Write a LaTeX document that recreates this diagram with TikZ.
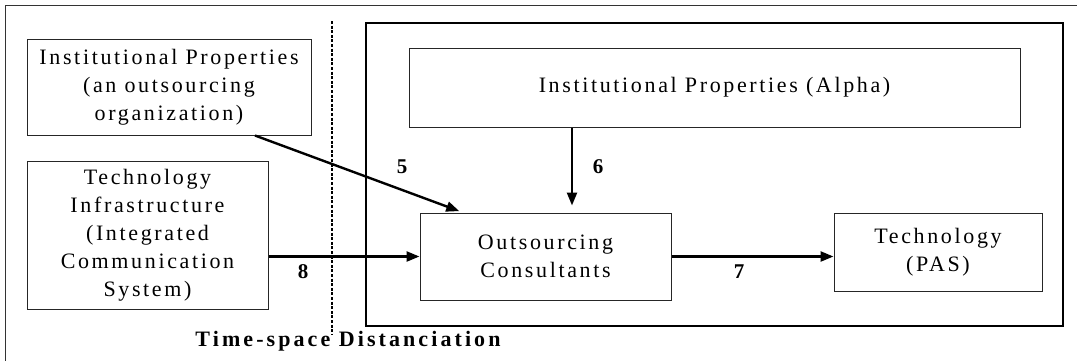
\documentclass[tikz,border=0pt]{standalone}
\usepackage{fontspec}
\setmainfont{Liberation Serif}
\newfontfamily\lsfont[LetterSpace=12]{Liberation Serif}
\newfontfamily\lsbold[LetterSpace=14]{Liberation Serif}
\usetikzlibrary{arrows.meta,calc}
\begin{document}
\begin{tikzpicture}[x=1pt,y=-1pt,
  boxnode/.style={draw=black!85,line width=1pt,inner sep=0pt,align=center,
    font=\lsfont\fontsize{22}{28}\selectfont},
  conn/.style={line width=2.4pt,-{Triangle[length=13pt,width=10pt]}},
  numlabel/.style={font=\bfseries\fontsize{21}{22}\selectfont,inner sep=0pt}]
\useasboundingbox (0,0) rectangle (1077,360);
% outer frame (partly outside the picture)
\draw[line width=1pt,black!80] (5,362) -- (5,5) -- (1079,5);
% inner frame
\draw[line width=1.1pt] (366,23) rectangle (1063,326);
% dotted separator
\draw[line width=2pt,dash pattern=on 3pt off 1.6pt] (332,21) -- (332,334);
% nodes
\node[boxnode,minimum width=284pt,minimum height=96pt] (ipo) at (169,87)
  {Institutional Properties\\(an outsourcing\\organization)};
\node[boxnode,minimum width=241pt,minimum height=148pt] (tii) at (147.5,235)
  {Technology\\Infrastructure\\(Integrated\\Communication\\System)};
\node[boxnode,minimum width=611pt,minimum height=79pt] (ipa) at (714.5,87.5)
  {Institutional Properties (Alpha)};
\node[boxnode,minimum width=251pt,minimum height=87pt] (oc) at (545.5,256.5)
  {Outsourcing\\Consultants};
\node[boxnode,minimum width=208pt,minimum height=78pt] (tp) at (938,252)
  {Technology\\(PAS)};
% connectors
\draw[conn,shorten >=4pt] ([xshift=86pt]ipo.south) -- ([xshift=-82.5pt]oc.north);
\draw[conn,shorten >=7pt] ([xshift=26.5pt]oc.north |- ipa.south) -- ([xshift=26.5pt]oc.north);
\draw[conn] (tii.east |- oc.west) -- (oc.west);
\draw[conn] (oc.east) -- (oc.east -| tp.west);
% labels
\node[numlabel] (l5) at (402,167) {5};
\node[numlabel] (l6) at (598,167) {6};
\node[numlabel] (l7) at (739,272) {7};
\node[numlabel] (l8) at (303,272) {8};
\node[font=\lsbold\bfseries\fontsize{22}{24}\selectfont,inner sep=0pt] (title) at (348,341)
  {Time-space Distanciation};
\end{tikzpicture}
\end{document}
